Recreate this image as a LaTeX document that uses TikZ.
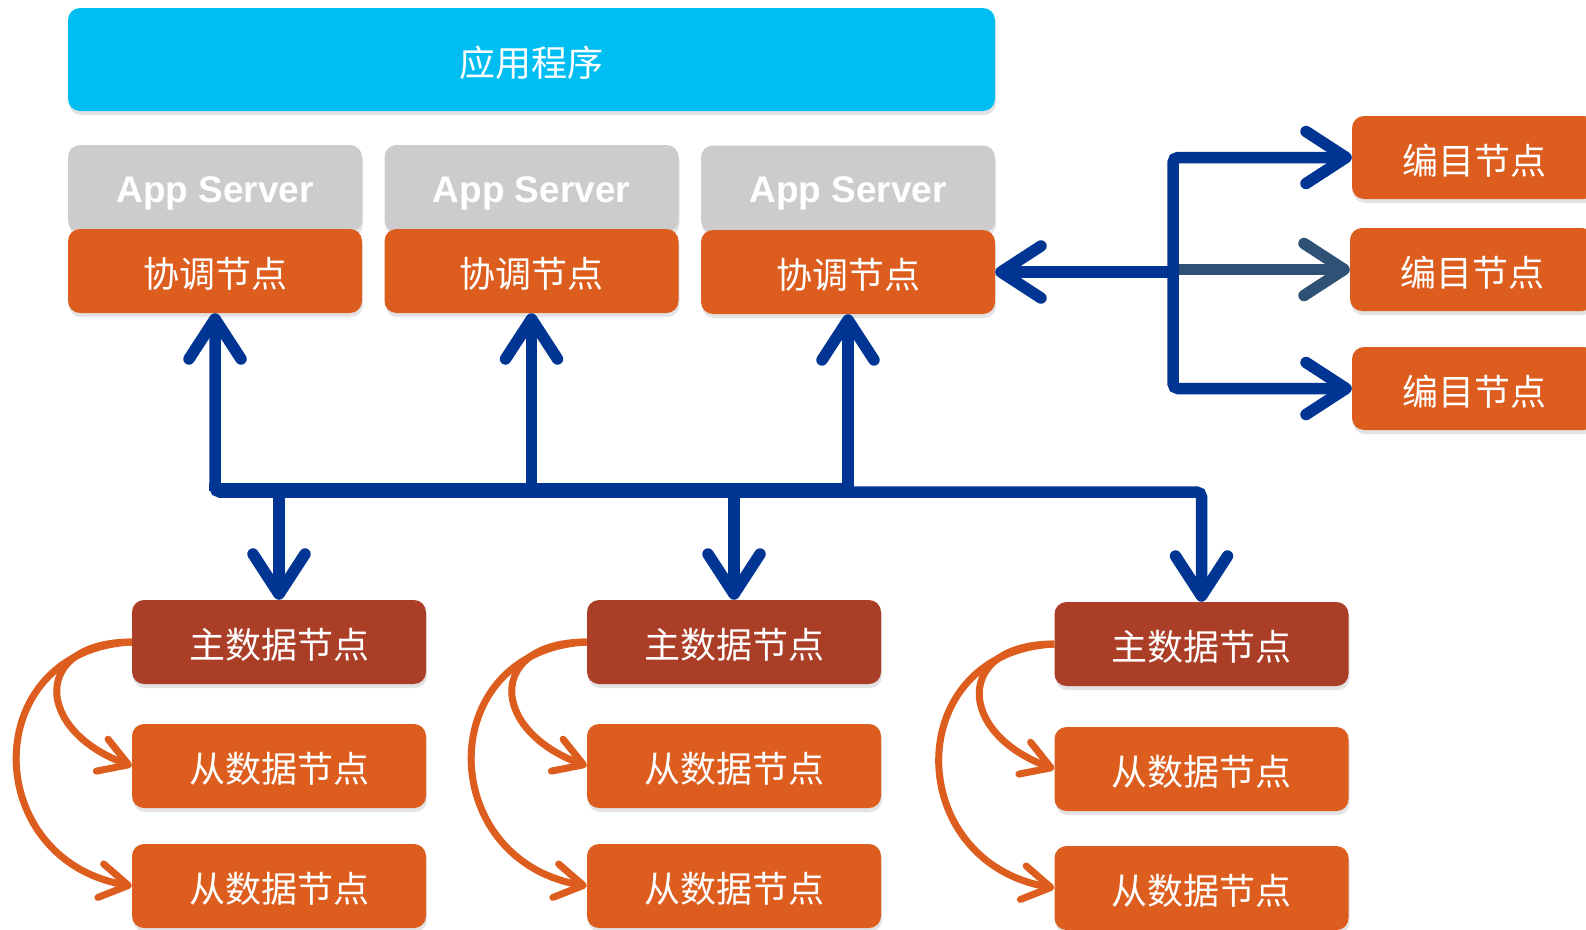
\documentclass[tikz,border=0pt]{standalone}
\usepackage{fontspec}
\newfontfamily\cjk{Noto Sans CJK SC}
\newfontfamily\lsans{Liberation Sans}
\usetikzlibrary{arrows.meta,shadows}
\definecolor{cyanC}{RGB}{0,190,242}
\definecolor{grayC}{RGB}{205,204,205}
\definecolor{orangeC}{RGB}{220,93,30}
\definecolor{redC}{RGB}{171,62,39}
\definecolor{blueC}{RGB}{0,53,147}
\definecolor{slateC}{RGB}{47,81,117}
\tikzset{
  shad/.style={drop shadow={opacity=0.22, shadow xshift=1pt, shadow yshift=-4pt}},
  box/.style={shad, rounded corners=12pt, inner sep=0pt, text=white,
    font=\cjk\fontsize{36}{40}\selectfont, text height=33pt, text depth=0pt},
  appbox/.style={box, fill=cyanC, minimum width=927pt, minimum height=103pt},
  srvbox/.style={box, fill=grayC, minimum width=294pt, minimum height=87pt,
    font=\lsans\bfseries\fontsize{37}{40}\selectfont, text height=27pt, text depth=0pt},
  coordbox/.style={box, fill=orangeC, minimum width=294pt, minimum height=84pt},
  catbox/.style={box, fill=orangeC, minimum width=244pt, minimum height=83pt},
  masterbox/.style={box, fill=redC, minimum width=294pt, minimum height=84pt},
  slavebox/.style={box, fill=orangeC, minimum width=294pt, minimum height=84pt},
  barrow/.style={draw=blueC, line width=11.5pt,
    -{Straight Barb[length=40pt,width=52pt,round]}},
  bline/.style={draw=blueC, line width=11.5pt},
  sarrow/.style={draw=slateC, line width=11.5pt,
    -{Straight Barb[length=40pt,width=52pt,round]}},
  oarrow/.style={draw=orangeC, line width=7pt,
    -{Straight Barb[length=28pt,width=34pt,round]}},
}
\begin{document}
\begin{tikzpicture}[x=1pt,y=-1pt]
\useasboundingbox (0,0) rectangle (1586,929);
\clip (0,0) rectangle (1586,929);
\fill[white] (0,0) rectangle (1586,929);

% application
\node[appbox] (app) at (531.5,59.5) {应用程序};

% app servers and coordinator nodes
\node[srvbox] (s1) at (215,188.5) {App Server};
\node[srvbox] (s2) at (531.5,188.5) {App Server};
\node[srvbox] (s3) at (848,189) {App Server};
\node[coordbox] (c1) at (215,271) {协调节点};
\node[coordbox] (c2) at (531.5,271) {协调节点};
\node[coordbox] (c3) at (848,272) {协调节点};

% catalog nodes
\node[catbox] (k1) at (1474,157.5) {编目节点};
\node[catbox] (k2) at (1472,269.5) {编目节点};
\node[catbox] (k3) at (1474,388.5) {编目节点};

% data nodes
\node[masterbox] (m1) at (279,642) {主数据节点};
\node[slavebox] (a1) at (279,766) {从数据节点};
\node[slavebox] (b1) at (279,886) {从数据节点};
\node[masterbox] (m2) at (734,642) {主数据节点};
\node[slavebox] (a2) at (734,766) {从数据节点};
\node[slavebox] (b2) at (734,886) {从数据节点};
\node[masterbox] (m3) at (1201.5,644) {主数据节点};
\node[slavebox] (a3) at (1201.5,769) {从数据节点};
\node[slavebox] (b3) at (1201.5,888) {从数据节点};

% bus between coordinators and data nodes
\coordinate (bus) at (0,492);
\coordinate (busTop) at (0,487);
\draw[bline, line width=8pt] ([xshift=-5.75pt]c1.south |- busTop) -- (c3.south |- busTop);
\draw[barrow, rounded corners=5pt] (c3.south |- bus) -| (c1.south);
\draw[barrow] (c2.south |- bus) -- (c2.south);
\draw[barrow] (c3.south |- bus) -- (c3.south);
\draw[barrow, rounded corners=5pt] (c3.south |- bus) -| (m3.north);
\draw[barrow] (m1.north |- bus) -- (m1.north);
\draw[barrow] (m2.north |- bus) -- (m2.north);

% catalog connections
\coordinate (rb) at (1173,0);
\draw[sarrow] (rb |- k2.west) -- (k2.west);
\draw[barrow, rounded corners=5pt] (rb |- c3.east) |- (k1.west);
\draw[barrow, rounded corners=5pt] (rb |- c3.east) |- (k3.west);
\draw[barrow] (rb |- c3.east) -- (c3.east);

% replication arrows
\foreach \m/\a/\b in {m1/a1/b1, m2/a2/b2, m3/a3/b3}{
  \draw[oarrow] (\m.west) .. controls +(-100,0) and +(-98,-36) .. (\a.west);
  \draw[oarrow] (\m.west) .. controls +(-154,8) and +(-152,-26) .. (\b.west);
}
\end{tikzpicture}
\end{document}
